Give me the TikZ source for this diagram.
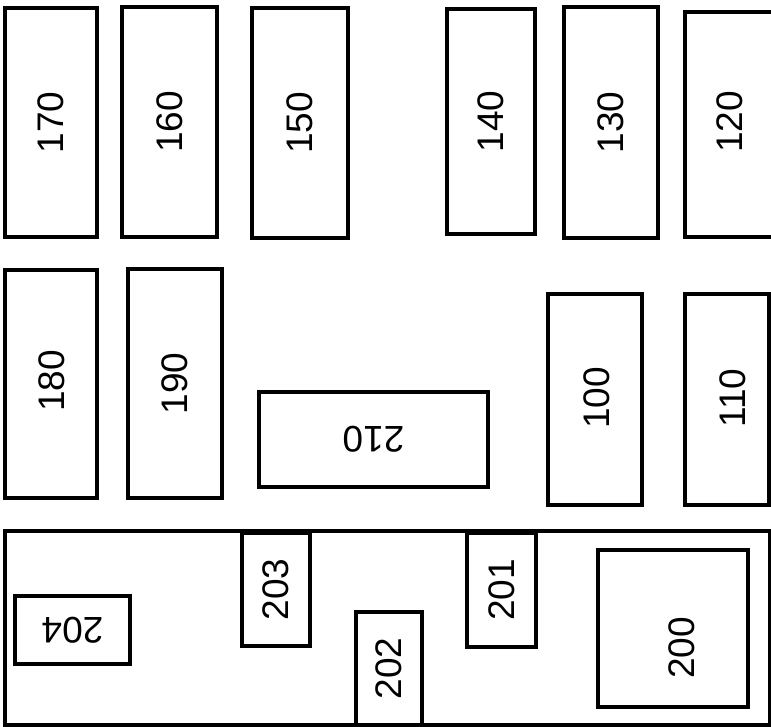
\documentclass[tikz,border=0pt]{standalone}
\usepackage{fontspec}
\setmainfont{Liberation Sans}
\begin{document}
\begin{tikzpicture}[x=1pt,y=-1pt,
  box/.style={draw, line width=3.4pt, inner sep=0pt, fill=white},
  lab/.style={inner sep=0pt, font=\fontsize{37}{40}\selectfont}]
\useasboundingbox (0,0) rectangle (771,727);
\fill[white] (0,0) rectangle (771,727);
% top row
\node[box, minimum width=92pt, minimum height=229pt] (b170) at (51,122.5) {};
\node[box, minimum width=95pt, minimum height=230pt] (b160) at (169.5,122) {};
\node[box, minimum width=96pt, minimum height=230pt] (b150) at (300,123) {};
\node[box, minimum width=88pt, minimum height=225pt] (b140) at (491,121.5) {};
\node[box, minimum width=94pt, minimum height=231pt] (b130) at (611,122.5) {};
\node[box, minimum width=89pt, minimum height=225pt] (b120) at (729.5,124.5) {};
% middle row
\node[box, minimum width=92pt, minimum height=228pt] (b180) at (51,384) {};
\node[box, minimum width=94pt, minimum height=229pt] (b190) at (175,383.5) {};
\node[box, minimum width=229pt, minimum height=95pt] (b210) at (373.5,439.5) {};
\node[box, minimum width=94pt, minimum height=211pt] (b100) at (595,399.5) {};
\node[box, minimum width=84pt, minimum height=211pt] (b110) at (727,399.5) {};
% bottom frame
\node[box, minimum width=765pt, minimum height=194pt] (frame) at (387.5,628) {};
\node[box, minimum width=68pt, minimum height=113pt] (b203) at (276,589.5) {};
\node[box, minimum width=69pt, minimum height=114pt] (b201) at (501.5,590) {};
\node[box, minimum width=66pt, minimum height=113pt] (b202) at (389,668.5) {};
\node[box, minimum width=115pt, minimum height=68pt] (b204) at (72.5,630) {};
\node[box, minimum width=150pt, minimum height=157pt] (b200) at (673,628.5) {};
% labels
\node[lab, rotate=90] (l170) at (b170.center) {170};
\node[lab, rotate=90] (l160) at (b160.center) {160};
\node[lab, rotate=90] (l150) at (b150.center) {150};
\node[lab, rotate=90] (l140) at (b140.center) {140};
\node[lab, rotate=90] (l130) at (b130.center) {130};
\node[lab, rotate=90] (l120) at (730,122) {120};
\node[lab, rotate=90] (l180) at (52,381) {180};
\node[lab, rotate=90] (l190) at (b190.center) {190};
\node[lab, rotate=180] (l210) at (b210.center) {210};
\node[lab, rotate=90] (l100) at (597,398) {100};
\node[lab, rotate=90] (l110) at (733,398) {110};
\node[lab, rotate=90] (l203) at (b203.center) {203};
\node[lab, rotate=90] (l201) at (b201.center) {201};
\node[lab, rotate=90] (l202) at (b202.center) {202};
\node[lab, rotate=180] (l204) at (b204.center) {204};
\node[lab, rotate=90] (l200) at (682,648) {200};
\end{tikzpicture}
\end{document}
